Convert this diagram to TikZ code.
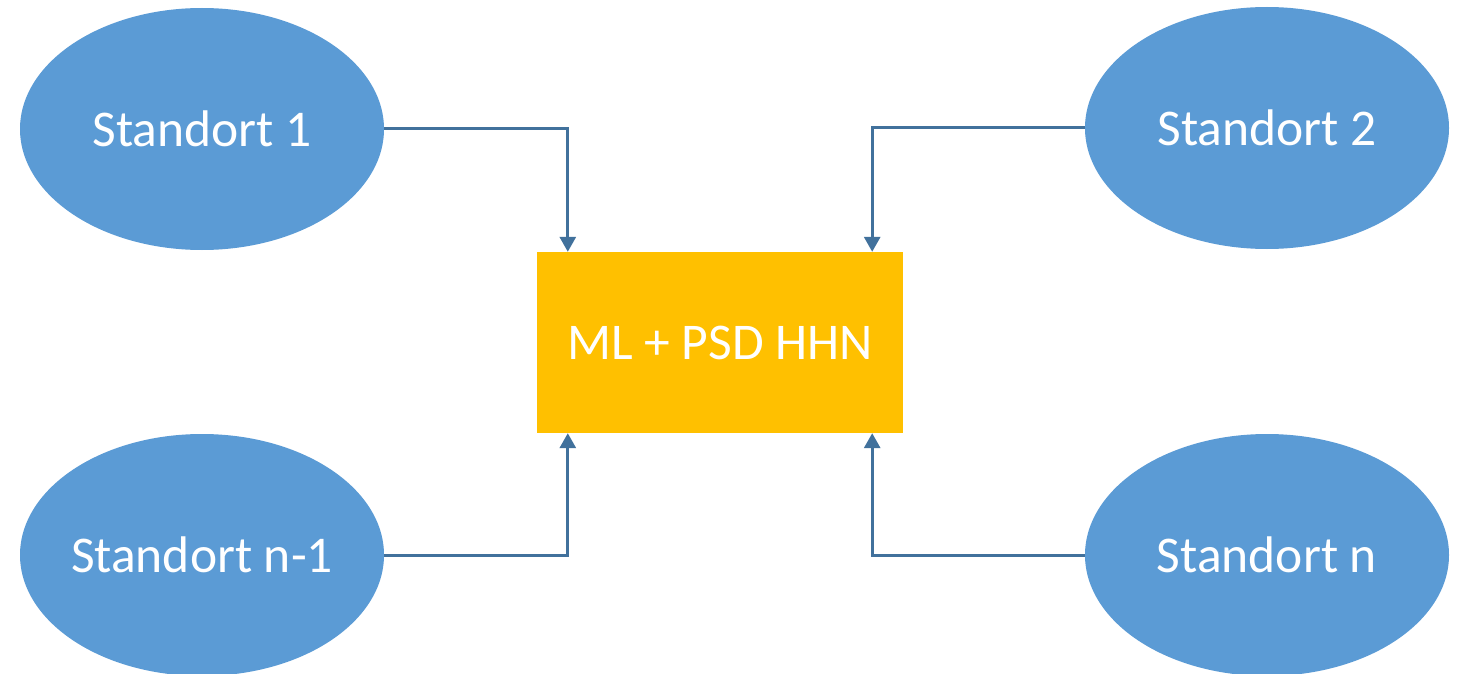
\documentclass[tikz,border=0pt]{standalone}
\usepackage{fontspec}
\setmainfont{Carlito}
\usetikzlibrary{shapes.geometric,arrows.meta}
\definecolor{ellblue}{HTML}{5B9BD5}
\definecolor{boxgold}{HTML}{FFC000}
\definecolor{linkblue}{HTML}{41719C}
\tikzset{
  site/.style={ellipse, fill=ellblue, minimum width=364pt, minimum height=242pt, inner sep=-20pt,
    text=white, font=\fontsize{51.5}{60}\selectfont},
  hub/.style={rectangle, fill=boxgold, minimum width=366pt, minimum height=181pt, inner sep=0pt,
    text=white, font=\fontsize{51.5}{60}\selectfont},
  conn/.style={draw=linkblue, line width=3pt, -{Triangle[width=16pt,length=15pt]}}
}
\begin{document}
\begin{tikzpicture}[x=1pt,y=-1pt]
\clip (0,0) rectangle (1460,674);
\useasboundingbox (0,0) rectangle (1460,674);
\fill[white] (0,0) rectangle (1460,674);
\node[site] (s1) at (202,129) {Standort 1};
\node[site] (s2) at (1267,128) {Standort 2};
\node[site] (sn1) at (202,555) {Standort n-1};
\node[site] (sn) at (1267,555) {Standort n};
\node[hub] (ml) at (720,342.5) {ML + PSD HHN};
\draw[conn] (s1.east) -| ([xshift=31pt]ml.north west);
\draw[conn] (s2.west) -| ([xshift=-31pt]ml.north east);
\draw[conn] (sn1.east) -| ([xshift=31pt]ml.south west);
\draw[conn] (sn.west) -| ([xshift=-31pt]ml.south east);
\end{tikzpicture}
\end{document}
